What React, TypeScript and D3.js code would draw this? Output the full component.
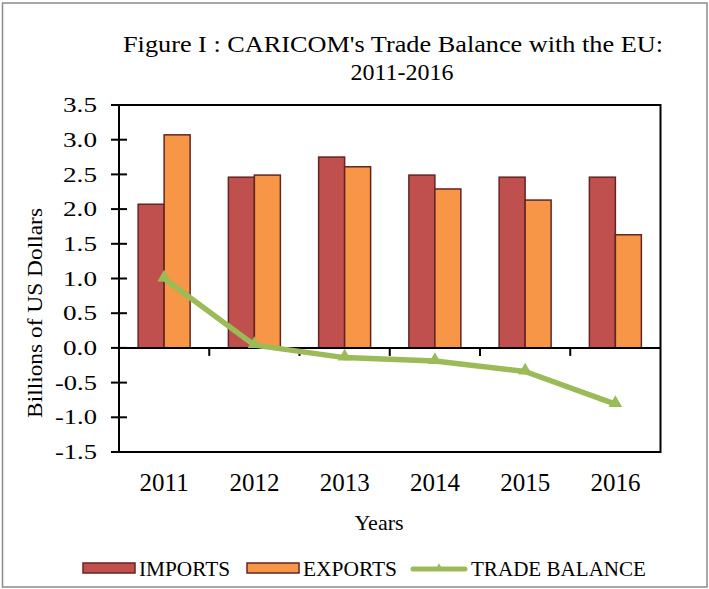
import React from 'react';
import * as d3 from 'd3';

const years = ['2011', '2012', '2013', '2014', '2015', '2016'];
const imports = [2.07, 2.46, 2.75, 2.49, 2.46, 2.46];
const exports_ = [3.07, 2.49, 2.61, 2.29, 2.13, 1.63];
const tradeBalance = [1.0, 0.04, -0.14, -0.19, -0.34, -0.81];
const yTicks = [-1.5, -1.0, -0.5, 0, 0.5, 1.0, 1.5, 2.0, 2.5, 3.0, 3.5];
const seriesNames = ['IMPORTS', 'EXPORTS'];

const W = 709;
const H = 589;
const left = 119;
const right = 660.5;
const top = 105;
const bottom = 452;
const font = '"Liberation Serif", "Times New Roman", serif';
const colors = { IMPORTS: '#C0504D', EXPORTS: '#F79646' };
const barStroke = '#632523';
const lineColor = '#9BBB59';

const fmt = (t: number) => t.toFixed(1); // hyphen minus like the original

const App = () => {
  const x = d3.scaleBand().domain(years).range([left, right]).paddingInner(0).paddingOuter(0);
  const xi = d3.scaleBand().domain(seriesNames).range([0, x.step()]).paddingInner(0).paddingOuter(0.736);
  const y = d3.scaleLinear().domain([-1.5, 3.5]).range([bottom, top]);
  const cx = (yr) => (x(yr) ?? 0) + x.step() / 2;

  const line = d3.line<number>()
    .x((d, i) => cx(years[i]))
    .y(d => y(d));

  const tri = d3.symbol().type(d3.symbolTriangle).size(80);

  return (
    <svg width={W} height={H} style={{ position: 'absolute', left: 0, top: 0 }} fontFamily={font}>
      <rect x={0} y={0} width={W} height={H} fill="#fff" />
      <rect x={2.5} y={3} width={W - 4.5} height={H - 5} fill="none" stroke="#8c8c8c" strokeWidth={1.5} />

      <text x={123} y={52} fontSize={24} fill="#000" textLength={540} lengthAdjust="spacingAndGlyphs">
        Figure I : CARICOM's  Trade Balance with the EU:
      </text>
      <text x={402} y={80} textAnchor="middle" fontSize={24} fill="#000">2011-2016</text>

      {/* bars */}
      {years.map((yr, i) => (
        <g key={yr}>
          {seriesNames.map(s => {
            const v = s === 'IMPORTS' ? imports[i] : exports_[i];
            return (
              <rect key={s}
                x={(x(yr) ?? 0) + (xi(s) ?? 0)}
                y={y(v)}
                width={xi.bandwidth()}
                height={y(0) - y(v)}
                fill={colors[s]}
                stroke={barStroke}
                strokeWidth={1.5} />
            );
          })}
        </g>
      ))}

      {/* plot box */}
      <rect x={left} y={top} width={right - left} height={bottom - top} fill="none" stroke="#000" strokeWidth={2} />

      {/* zero axis with ticks at category boundaries */}
      <line x1={left} x2={right} y1={y(0)} y2={y(0)} stroke="#000" strokeWidth={2} />
      {years.map((yr, i) => i > 0 && (
        <line key={yr} x1={x(yr)} x2={x(yr)} y1={y(0)} y2={y(0) + 8} stroke="#000" strokeWidth={2} />
      ))}

      {/* y axis ticks and labels */}
      {yTicks.map(t => (
        <g key={t}>
          <line x1={left - 8} x2={left + 8} y1={y(t)} y2={y(t)} stroke="#000" strokeWidth={2} />
          <text x={97} y={y(t)} dy="0.34em" textAnchor="end" fontSize={21} fill="#000"
            textLength={t < 0 ? 42 : 34} lengthAdjust="spacingAndGlyphs">
            {fmt(t)}
          </text>
        </g>
      ))}

      {/* x labels */}
      {years.map(yr => (
        <text key={yr} x={cx(yr)} y={491} textAnchor="middle" fontSize={25} fill="#000">{yr}</text>
      ))}
      <text x={379} y={530} textAnchor="middle" fontSize={22} fill="#000">Years</text>
      <text transform={`translate(42,${313}) rotate(-90)`} textAnchor="middle" fontSize={21} fill="#000"
        textLength={210} lengthAdjust="spacingAndGlyphs">
        Billions of US Dollars
      </text>

      {/* trade balance line */}
      <path d={line(tradeBalance) ?? ''} fill="none" stroke={lineColor} strokeWidth={5.5} strokeLinejoin="round" />
      {tradeBalance.map((v, i) => (
        <path key={i} d={tri() ?? ''} transform={`translate(${cx(years[i])},${y(v) - 1})`} fill={lineColor} />
      ))}

      {/* legend */}
      <rect x={83} y={563} width={52} height={10} fill={colors.IMPORTS} stroke={barStroke} strokeWidth={1.5} />
      <text x={139} y={576} fontSize={22} fill="#000" textLength={91} lengthAdjust="spacingAndGlyphs">IMPORTS</text>
      <rect x={247} y={563} width={52} height={10} fill={colors.EXPORTS} stroke={barStroke} strokeWidth={1.5} />
      <text x={303} y={576} fontSize={22} fill="#000" textLength={94} lengthAdjust="spacingAndGlyphs">EXPORTS</text>
      <line x1={413} x2={465} y1={569} y2={569} stroke={lineColor} strokeWidth={5} strokeLinecap="round" />
      <path d={d3.symbol().type(d3.symbolTriangle).size(30)() ?? ''} transform="translate(439,568)" fill={lineColor} />
      <text x={471} y={576} fontSize={22} fill="#000" textLength={175} lengthAdjust="spacingAndGlyphs">TRADE BALANCE</text>
    </svg>
  );
};

export default App;
